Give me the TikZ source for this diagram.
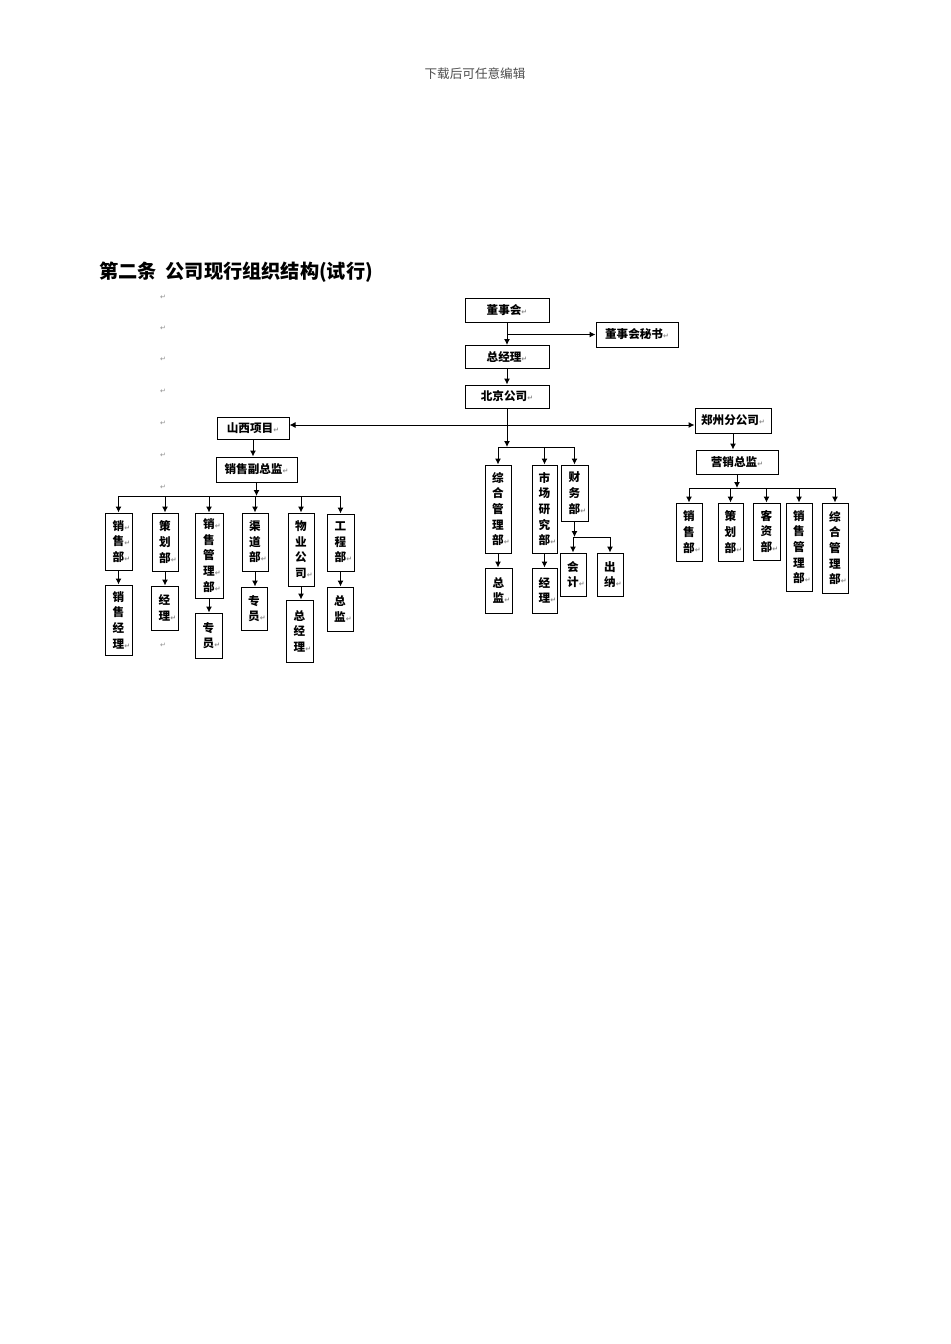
\documentclass[tikz,border=0pt]{standalone}
\usepackage{fontspec}
\newfontfamily\cjk{Noto Sans CJK SC}
\newfontfamily\symfont{DejaVu Sans}
\usetikzlibrary{arrows.meta}
\newcommand{\retmark}{{\symfont\fontsize{3.5}{3.5}\selectfont\textcolor{black!45}{↵}}}
\newcommand{\vr}{\rlap{\retmark}}

\begin{document}
\begin{tikzpicture}[x=0.5pt,y=-0.5pt,
    box/.style={draw,line width=0.5pt,inner sep=0pt,align=center,font=\cjk\bfseries\fontsize{5.8}{7.8}\selectfont},
    link/.style={line width=0.5pt,-{Latex[length=3pt,width=3pt]}},
    line/.style={line width=0.5pt},
    pmk/.style={inner sep=0pt}]
    \useasboundingbox (0,0) rectangle (950,1344);
    \node[font=\cjk\fontsize{6.3}{7}\selectfont,text=black!70] (head) at (475,74) {下载后可任意编辑};
    \node[anchor=west,inner sep=0pt,font=\cjk\bfseries\fontsize{9.6}{10}\selectfont] (title) at (99,272) {第二条\hspace{0.45em}公司现行组织结构(试行)};
    \foreach \y [count=\i] in {297,328,359,391,423,455,487,645}
        \node[pmk] (pm\i) at (163,\y) {\retmark};

    \node[box,minimum width=42pt,minimum height=12pt] (dsh) at (507,310) {董事会\retmark};
    \node[box,minimum width=41pt,minimum height=12.5pt] (mishu) at (637,334.5) {董事会秘书\retmark};
    \node[box,minimum width=42pt,minimum height=11.5pt] (zjl) at (507,357) {总经理\retmark};
    \node[box,minimum width=42pt,minimum height=11.5pt] (bj) at (507,396.5) {北京公司\retmark};
    \node[box,minimum width=36pt,minimum height=11pt] (sx) at (253,428) {山西项目\retmark};
    \node[box,minimum width=40.5pt,minimum height=12.5pt] (xsfzj) at (256.5,469.5) {销售副总监\retmark};
    \node[box,minimum width=38pt,minimum height=12.5pt] (zz) at (733,420.5) {郑州分公司\retmark};
    \node[box,minimum width=41pt,minimum height=12pt] (yxzj) at (737,462) {营销总监\retmark};

    \node[box,minimum width=13.5pt,minimum height=28.5pt] (a1) at (118.5,541.5) {销\vr\\售\vr\\部\vr};
    \node[box,minimum width=13pt,minimum height=29pt] (a2) at (165,542) {策\\划\\部\vr};
    \node[box,minimum width=14pt,minimum height=42.5pt] (a3) at (209,555.5) {销\vr\\售\\管\\理\vr\\部\vr};
    \node[box,minimum width=13pt,minimum height=29pt] (a4) at (255,542) {渠\\道\\部\vr};
    \node[box,minimum width=13pt,minimum height=36.5pt] (a5) at (301,549.5) {物\\业\\公\\司\vr};
    \node[box,minimum width=13.5pt,minimum height=28.5pt] (a6) at (340.5,542.5) {工\\程\\部\vr};
    \node[box,minimum width=13.5pt,minimum height=35pt] (b1) at (118.5,620) {销\\售\\经\\理\vr};
    \node[box,minimum width=13.5pt,minimum height=22pt] (b2) at (164.5,608) {经\\理\vr};
    \node[box,minimum width=13.5pt,minimum height=22.5pt] (b3) at (208.5,635.5) {专\\员\vr};
    \node[box,minimum width=13pt,minimum height=21.5pt] (b4) at (254,608.5) {专\\员\vr};
    \node[box,minimum width=13.5pt,minimum height=31pt] (b5) at (299.5,631) {总\\经\\理\vr};
    \node[box,minimum width=13pt,minimum height=22pt] (b6) at (340,609) {总\\监\vr};

    \node[box,minimum width=13pt,minimum height=44pt] (c1) at (498,509) {综\\合\\管\\理\\部\vr};
    \node[box,minimum width=12.5pt,minimum height=44pt] (c2) at (544.5,509) {市\\场\\研\\究\\部\vr};
    \node[box,minimum width=13.5pt,minimum height=28pt] (c3) at (574.5,493) {财\\务\\部\vr};
    \node[box,minimum width=13.5pt,minimum height=22.5pt] (d1) at (498.5,590.5) {总\\监\vr};
    \node[box,minimum width=12.5pt,minimum height=22.5pt] (d2) at (544.5,590.5) {经\\理\vr};
    \node[box,minimum width=13pt,minimum height=21.5pt] (d3) at (573,574.5) {会\\计\vr};
    \node[box,minimum width=13pt,minimum height=21.5pt] (d4) at (610,574.5) {出\\纳\vr};

    \node[box,minimum width=13pt,minimum height=29pt] (e1) at (689,532) {销\\售\\部\vr};
    \node[box,minimum width=12.5pt,minimum height=29pt] (e2) at (730.5,532) {策\\划\\部\vr};
    \node[box,minimum width=13.5pt,minimum height=28.5pt] (e3) at (766.5,531.5) {客\\资\\部\vr};
    \node[box,minimum width=13pt,minimum height=44pt] (e4) at (799,547) {销\\售\\管\\理\\部\vr};
    \node[box,minimum width=13pt,minimum height=45pt] (e5) at (835,548) {综\\合\\管\\理\\部\vr};

    \coordinate (mid) at (0,425);
    \coordinate (bra) at (0,496);
    \coordinate (brc) at (0,447);
    \coordinate (brf) at (0,537);
    \coordinate (bre) at (0,488);

    \draw[link] (dsh.south) -- (zjl.north);
    \draw[link] (dsh.south |- mishu.west) -- (mishu.west);
    \draw[link] (zjl.south) -- (bj.north);
    \draw[link] (bj.south) -- (bj.south |- brc);
    \draw[line width=0.5pt,{Latex[length=3pt,width=3pt]}-{Latex[length=3pt,width=3pt]}] (sx.east |- mid) -- (zz.west |- mid);

    \draw[link] (sx.south) -- (sx.south |- xsfzj.north);
    \draw[link] (xsfzj.south) -- (xsfzj.south |- bra);
    \draw[line] (a1.north |- bra) -- (a6.north |- bra);
    \foreach \n in {a1,a2,a3,a4,a5,a6}
        \draw[link] (\n.north |- bra) -- (\n.north);
    \draw[link] (a1.south) -- (a1.south |- b1.north);
    \draw[link] (a2.south) -- (a2.south |- b2.north);
    \draw[link] (a3.south) -- (a3.south |- b3.north);
    \draw[link] (a4.south) -- (a4.south |- b4.north);
    \draw[link] (a5.south) -- (a5.south |- b5.north);
    \draw[link] (a6.south) -- (a6.south |- b6.north);

    \draw[line] (c1.north |- brc) -- (c3.north |- brc);
    \foreach \n in {c1,c2,c3}
        \draw[link] (\n.north |- brc) -- (\n.north);
    \draw[link] (c1.south) -- (c1.south |- d1.north);
    \draw[link] (c2.south) -- (c2.south |- d2.north);
    \draw[link] (c3.south) -- (c3.south |- brf);
    \draw[line] (d3.north |- brf) -- (d4.north |- brf);
    \draw[link] (d3.north |- brf) -- (d3.north);
    \draw[link] (d4.north |- brf) -- (d4.north);

    \draw[link] (zz.south) -- (zz.south |- yxzj.north);
    \draw[link] (yxzj.south) -- (yxzj.south |- bre);
    \draw[line] (e1.north |- bre) -- (e5.north |- bre);
    \foreach \n in {e1,e2,e3,e4,e5}
        \draw[link] (\n.north |- bre) -- (\n.north);
\end{tikzpicture}
\end{document}
